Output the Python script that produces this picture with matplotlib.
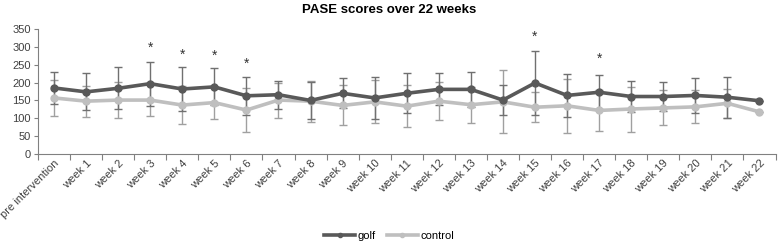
import numpy as np
import matplotlib
matplotlib.use('Agg')
import matplotlib.pyplot as plt

plt.rcParams['font.family'] = ['Liberation Sans', 'DejaVu Sans']

# categories
labels = ['pre intervention'] + ['week %d' % i for i in range(1, 23)]

# mean PASE scores
golf = [185, 174, 184, 197, 182, 188, 163, 166, 150, 170, 157, 170,
        181, 181, 151, 199, 164, 173, 161, 161, 164, 159, 149]
control = [157, 148, 151, 151, 137, 144, 123, 151, 148, 136, 146, 134,
           148, 138, 146, 131, 135, 122, 126, 129, 132, 142, 118]

# error bar half-widths
golf_err = [46, 52, 59, 62, 61, 52, 53, 39, 52, 42, 58, 56,
            45, 48, 42, 90, 60, 47, 44, 41, 48, 57, 0]
control_err = [50, 43, 51, 44, 53, 46, 62, 49, 57, 56, 60, 58,
               53, 50, 88, 42, 76, 58, 63, 49, 46, 40, 0]

# significance markers (category index, height)
star_idx = [3, 4, 5, 6, 15, 17]
star_y = [298, 279, 275, 253, 327, 266]

golf_col = '#595959'
ctrl_col = '#bfbfbf'

fig = plt.figure(figsize=(7.78, 2.46), dpi=100)
ax = fig.add_axes([0.0488, 0.374, 0.948, 0.508])

x = np.arange(len(labels))

ax.errorbar(x, control, yerr=control_err, fmt='none', ecolor='#a0a0a0',
            elinewidth=1.0, capsize=3, capthick=1.0, zorder=2)
ax.errorbar(x, golf, yerr=golf_err, fmt='none', ecolor='#707070',
            elinewidth=1.0, capsize=3, capthick=1.0, zorder=2)
ax.plot(x, golf, '-o', color=golf_col, lw=2.6, ms=5, label='golf', zorder=4)
ax.plot(x, control, '-o', color=ctrl_col, lw=2.6, ms=5, label='control', zorder=3)

for i, yy in zip(star_idx, star_y):
    ax.text(i, yy, '*', ha='center', va='center', fontsize=10, color='#333333')

ax.set_xlim(-0.5, len(labels) - 0.5)
ax.set_ylim(0, 350)
ax.set_yticks(np.arange(0, 351, 50))

# tick marks at category boundaries, labels at centres
ax.set_xticks(np.arange(-0.5, len(labels), 1.0))
ax.set_xticklabels([])
ax.set_xticks(x, minor=True)
ax.set_xticklabels(labels, minor=True, rotation=45, ha='right',
                   rotation_mode='anchor', fontsize=8, color='#404040')
ax.tick_params(axis='x', which='major', direction='out', length=4,
               color='#808080', width=0.8)
ax.tick_params(axis='x', which='minor', length=0, pad=3)
ax.tick_params(axis='y', direction='out', length=3, color='#808080',
               width=0.8, labelsize=8, labelcolor='#404040', pad=2)

for s in ['top', 'right']:
    ax.spines[s].set_visible(False)
for s in ['left', 'bottom']:
    ax.spines[s].set_color('#808080')
    ax.spines[s].set_linewidth(0.8)

fig.suptitle('PASE scores over 22 weeks', fontsize=9.5, fontweight='bold',
             x=0.5, y=0.985, va='top')

fig.legend(loc='lower center', bbox_to_anchor=(0.5, -0.02), ncol=2,
           frameon=False, fontsize=8, handlelength=2.8, handletextpad=0.2,
           columnspacing=1.0, markerscale=0.6)

fig.savefig('out.png', dpi=100)
